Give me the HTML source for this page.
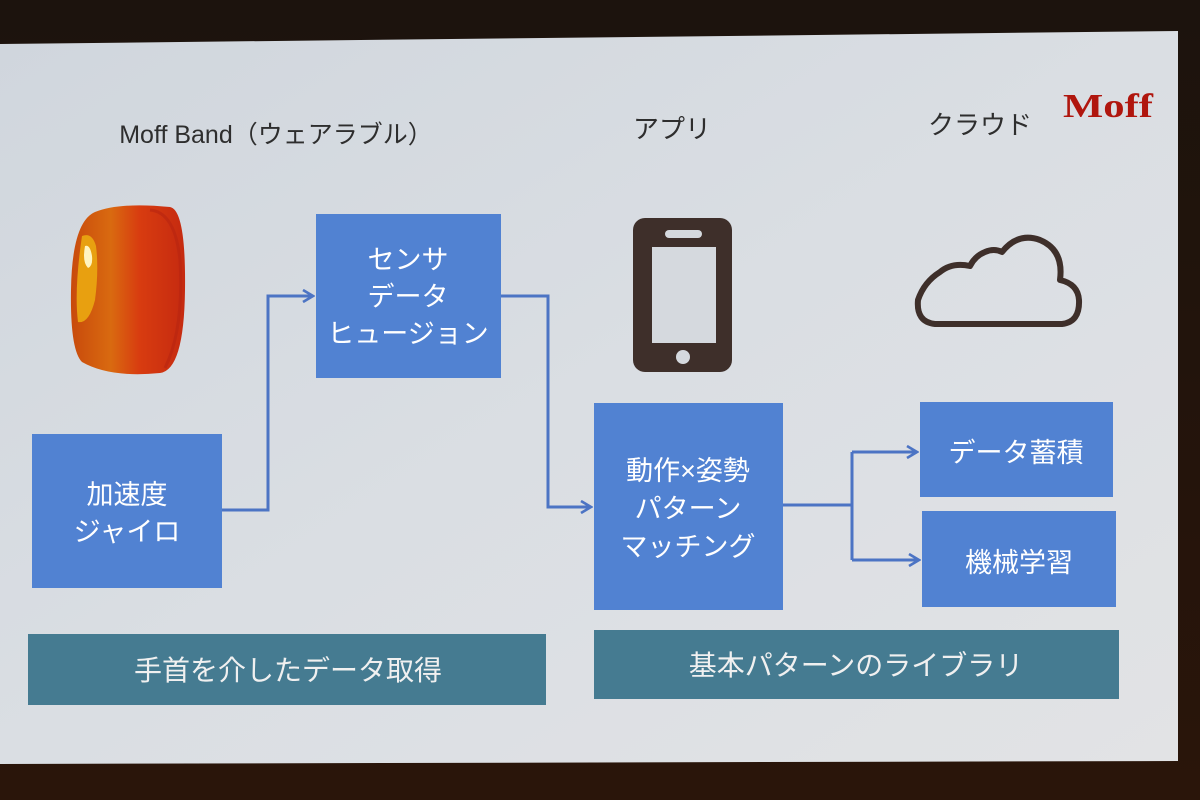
<!DOCTYPE html>
<html><head><meta charset="utf-8"><style>
body{margin:0;width:1200px;height:800px;overflow:hidden;background:#1e120c}
svg{display:block}
text{font-family:"Liberation Sans","Noto Sans CJK JP",sans-serif}
</style></head><body>
<svg width="1200" height="800" viewBox="0 0 1200 800">
<defs>
<linearGradient id="bg" x1="0" y1="0" x2="1" y2="1">
<stop offset="0" stop-color="#d0d6dd"/><stop offset="0.5" stop-color="#dadee3"/><stop offset="1" stop-color="#e2e3e5"/>
</linearGradient>
<linearGradient id="ring" x1="0" y1="0" x2="1" y2="0">
<stop offset="0" stop-color="#c84a0c"/><stop offset="0.35" stop-color="#d96a10"/><stop offset="0.6" stop-color="#d83c10"/><stop offset="1" stop-color="#c52a10"/>
</linearGradient>
<linearGradient id="dark" x1="0" y1="0" x2="0" y2="1">
<stop offset="0" stop-color="#1c130d"/><stop offset="1" stop-color="#2a150a"/>
</linearGradient>
<marker id="ar" markerWidth="14" markerHeight="14" refX="12" refY="7" orient="auto" markerUnits="userSpaceOnUse">
<path d="M2,1 L12,7 L2,13" fill="none" stroke="#4c74c4" stroke-width="2.6"/>
</marker>
</defs>
<rect width="1200" height="800" fill="url(#dark)"/>
<polygon points="0,44 1178,31 1178,761 0,764" fill="url(#bg)"/>

<!-- headers -->
<text x="276" y="143" font-size="25" fill="#2e2e2e" text-anchor="middle">Moff Band（ウェアラブル）</text>
<text x="672" y="138" font-size="26" fill="#2e2e2e" text-anchor="middle">アプリ</text>
<text x="980" y="134" font-size="26" fill="#2e2e2e" text-anchor="middle">クラウド</text>
<text x="1108" y="117" font-size="34" font-weight="bold" fill="#b0160e" text-anchor="middle" style="font-family:'Liberation Serif',serif" textLength="90" lengthAdjust="spacingAndGlyphs">Moff</text>

<!-- ring -->
<path d="M95,212 Q120,202 170,207 Q186,210 185,290 Q184,370 160,373 Q110,378 82,362 Q70,350 71,290 Q72,222 95,212Z" fill="url(#ring)"/>
<path d="M82,236 Q92,232 96,246 Q99,270 95,300 Q89,324 78,322 Q74,290 82,236Z" fill="#e8a010"/>
<path d="M85,246 Q90,244 92,256 Q93,266 88,268 Q82,262 85,246Z" fill="#fff4c0"/>
<path d="M150,210 Q175,212 180,260 Q184,330 165,368" fill="none" stroke="#b82410" stroke-width="3" opacity="0.6"/>

<!-- phone -->
<rect x="633" y="218" width="99" height="154" rx="12" fill="#3e2f2a"/>
<rect x="652" y="247" width="64" height="96" fill="#d5d9de"/>
<rect x="665" y="230" width="37" height="8" rx="4" fill="#d5d9de"/>
<circle cx="683" cy="357" r="7" fill="#d5d9de"/>

<!-- cloud -->
<path d="M935,324 L1062,324 Q1080,322 1079,300 Q1078,284 1060,280 Q1064,250 1040,240 Q1018,232 1002,252 Q994,248 985,252 Q975,256 970,266 Q952,262 940,272 Q924,282 918,300 Q916,322 935,324Z" fill="none" stroke="#3e2f2a" stroke-width="6" stroke-linejoin="round"/>

<!-- boxes -->
<g fill="#5182d2">
<rect x="32" y="434" width="190" height="154"/>
<rect x="316" y="214" width="185" height="164"/>
<rect x="594" y="403" width="189" height="207"/>
<rect x="920" y="402" width="193" height="95"/>
<rect x="922" y="511" width="194" height="96"/>
</g>
<g fill="#457b91">
<rect x="28" y="634" width="518" height="71"/>
<rect x="594" y="630" width="525" height="69"/>
</g>

<g font-size="27" fill="#ffffff" text-anchor="middle">
<text x="127" y="504">加速度</text>
<text x="127" y="541">ジャイロ</text>
<text x="408" y="269">センサ</text>
<text x="408" y="306">データ</text>
<text x="408" y="343">ヒュージョン</text>
<text x="688" y="480">動作×姿勢</text>
<text x="688" y="518">パターン</text>
<text x="688" y="556">マッチング</text>
<text x="1016" y="462">データ蓄積</text>
<text x="1019" y="572">機械学習</text>
<text x="288" y="680" font-size="28" fill="#f0f0f0">手首を介したデータ取得</text>
<text x="856" y="675" font-size="28" fill="#f0f0f0">基本パターンのライブラリ</text>
</g>

<!-- connectors -->
<g fill="none" stroke="#4c74c4" stroke-width="3">
<path d="M222,510 L268,510 L268,296 L313,296" marker-end="url(#ar)"/>
<path d="M501,296 L548,296 L548,507 L591,507" marker-end="url(#ar)"/>
<path d="M783,505 L852,505"/>
<path d="M852,452 L852,560"/>
<path d="M852,452 L917,452" marker-end="url(#ar)"/>
<path d="M852,560 L919,560" marker-end="url(#ar)"/>
</g>
</svg>
</body></html>
